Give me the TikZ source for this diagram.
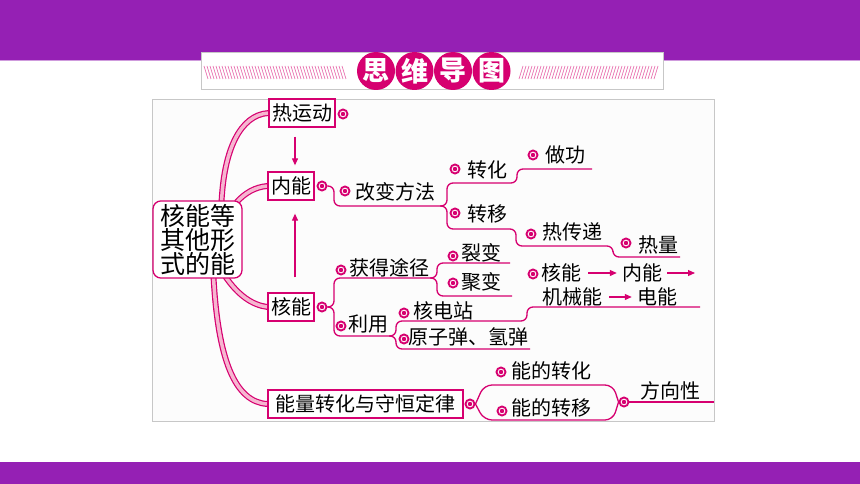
\documentclass[tikz,border=0pt]{standalone}
\usepackage{fontspec}
\setmainfont{Noto Sans CJK SC}
\usetikzlibrary{arrows.meta,backgrounds}
\definecolor{mg}{RGB}{214,0,112}
\definecolor{pk}{RGB}{246,182,208}
\definecolor{bar}{RGB}{149,32,180}
\tikzset{
  box/.style={draw=mg, line width=1.3pt, fill=white, inner sep=3pt, minimum height=28pt, font=\fontsize{20}{22}\selectfont},
  txt/.style={inner sep=1pt, font=\fontsize{20}{22}\selectfont},
  bull/.style={circle, draw=mg, line width=1.9pt, fill=white, minimum size=9pt, inner sep=0pt,
    path picture={\fill[mg] (path picture bounding box.center) circle (2.2pt);}},
  br/.style={draw=mg, line width=1.3pt, rounded corners=6pt},
  arr/.style={draw=mg, line width=1.1pt, -{Triangle[length=7pt,width=6pt]}},
  arrs/.style={arr, shorten <=6pt, shorten >=4pt},
  band/.style={draw=mg, line width=1.2pt, double=pk, double distance=3.5pt},
}
\begin{document}
\begin{tikzpicture}[x=1pt,y=-1pt]
\useasboundingbox (0,0) rectangle (860,484);
\fill[bar] (0,0) rectangle (860,60);
\draw[bar!45, line width=1pt] (0,60.5) -- (860,60.5);
\fill[bar] (0,462) rectangle (860,484);

% title
\draw[black!22, fill=white] (201,52) rectangle (663,89);
\foreach \x in {204,207,...,342} \draw[mg!55, line width=0.7pt] (\x,66) -- (\x+4,79);
\foreach \x in {519,522,...,656} \draw[mg!55, line width=0.7pt] (\x,79) -- (\x+4,66);
\foreach \c [count=\i] in {思,维,导,图}
  \node[circle, fill=mg, minimum size=38pt, inner sep=0pt, text=white,
        font=\fontsize{27}{27}\selectfont\bfseries] (t\i) at (337.5+38.5*\i,71) {\c};

% centre and main boxes
\node[box, rounded corners=8pt, align=center, minimum width=89pt, minimum height=75pt,
      font=\fontsize{25}{24}\selectfont] (core) at (197.5,239.5) {核能等\\其他形\\式的能};
\node[box] (rd) at (302,113) {热运动};
\node[box] (nei-n) at (291,186) {内能};
\node[box] (he-n) at (291,307) {核能};
\node[box, minimum width=195pt] (nl-n) at (365.5,404) {能量转化与守恒定律};
\begin{scope}[on background layer]
  \fill[white] (0,60) rectangle (860,462);
  \draw[black!22, fill=black!1] (152,99) rectangle (714,421);
  \draw[band] ([xshift=24pt,yshift=-2pt]core.north) .. controls (224,150) and (240,115) .. (rd.west);
  \draw[band] ([xshift=39pt,yshift=-2pt]core.north) .. controls (245,193) and (255,187) .. (nei-n.west);
  \draw[band] ([xshift=28pt,yshift=2pt]core.south) .. controls (238,295) and (252,305) .. (he-n.west);
  \draw[band] ([xshift=16pt,yshift=2pt]core.south) .. controls (218,360) and (235,402) .. (nl-n.west);
\end{scope}

\node[bull] (rd-b) at (343,114) {};
\draw[arr] ([xshift=-7pt,yshift=-9pt]rd.south) -- ([xshift=4pt,yshift=6pt]nei-n.north);
\draw[arr] ([xshift=4pt,yshift=15pt]he-n.north) -- ([xshift=4pt,yshift=-13pt]nei-n.south);

\begin{scope}[name prefix = nei-]
  \node[bull] (b) at (322,186) {};
  \draw[br] (b.east) -- (334,186) -- (334,206) -- (447,206) -- (447,183) -- (517,183) -- (517,169) -- (592,169);
  \draw[br] (440,206) -- (447,206) -- (447,229) -- (516,229) -- (516,246) -- (613,246) -- (613,257) -- (680,257);
  \node[bull] (gb) at (345,191) {};
  \node[txt] (gbff) at (395,192) {改变方法};
  \node[bull] (zh) at (455,169) {};
  \node[txt] (zhh) at (487,170) {转化};
  \node[bull] (zg) at (533,155) {};
  \node[txt] (zgg) at (565,155) {做功};
  \node[bull] (zy) at (455,213) {};
  \node[txt] (zyy) at (487,214) {转移};
  \node[bull] (rc) at (531,234) {};
  \node[txt] (rcd) at (572,232) {热传递};
  \node[bull] (rl) at (626,243) {};
  \node[txt] (rll) at (658,245) {热量};
\end{scope}

\begin{scope}[name prefix = he-]
  \node[bull] (b) at (322,307) {};
  \draw[br] (b.east) -- (334,307) -- (334,278) -- (437,278) -- (437,263) -- (510,263);
  \draw[br] (430,278) -- (437,278) -- (437,296) -- (512,296);
  \draw[br] (b.east) -- (334,307) -- (334,336) -- (396,336) -- (396,321) -- (527,321) -- (527,307) -- (700,307);
  \draw[br] (389,336) -- (396,336) -- (396,349) -- (530,349);
  \node[bull] (hd) at (341,270) {};
  \node[txt] (hdd) at (389,268) {获得途径};
  \node[bull] (lb) at (453,256) {};
  \node[txt] (lbb) at (481,253) {裂变};
  \node[bull] (jb) at (453,283) {};
  \node[txt] (jbb) at (481,282) {聚变};
  \node[bull] (ly) at (341,326) {};
  \node[txt] (lyy) at (368,324) {利用};
  \node[bull] (hz) at (404,313) {};
  \node[txt] (hzz) at (443,311) {核电站};
  \node[bull] (yz) at (404,339) {};
  \node[txt] (yzz) at (468,337) {原子弹、氢弹};
  \node[bull] (hn) at (533,274) {};
  \node[txt] (hnn) at (561,273) {核能};
  \node[txt] (nnn) at (642,273) {内能};
  \coordinate (e) at (695,273);
  \node[txt] (jx) at (572,297) {机械能};
  \node[txt] (dn) at (657,297) {电能};
  \draw[arrs] (hnn) -- (nnn);
  \draw[arr] ([xshift=4pt]nnn.east) -- (e);
  \draw[arrs] (jx) -- (dn);
\end{scope}

\begin{scope}[name prefix = nl-]
  \node[bull] (b) at (470,404) {};
  \node[bull] (fb) at (624,402) {};
  \draw[br, rounded corners=8pt] (b.east) -- (484,385) -- (613,385) -- (fb.west);
  \draw[br, rounded corners=8pt] (b.east) -- (484,420) -- (613,420) -- (fb.west);
  \draw[br] (fb.east) -- (714,402);
  \node[bull] (zh) at (501,372) {};
  \node[txt] (zhh) at (551,371) {能的转化};
  \node[bull] (zy) at (502,411) {};
  \node[txt] (zyy) at (551,408) {能的转移};
  \node[txt] (fx) at (670,391) {方向性};
\end{scope}
\end{tikzpicture}
\end{document}
